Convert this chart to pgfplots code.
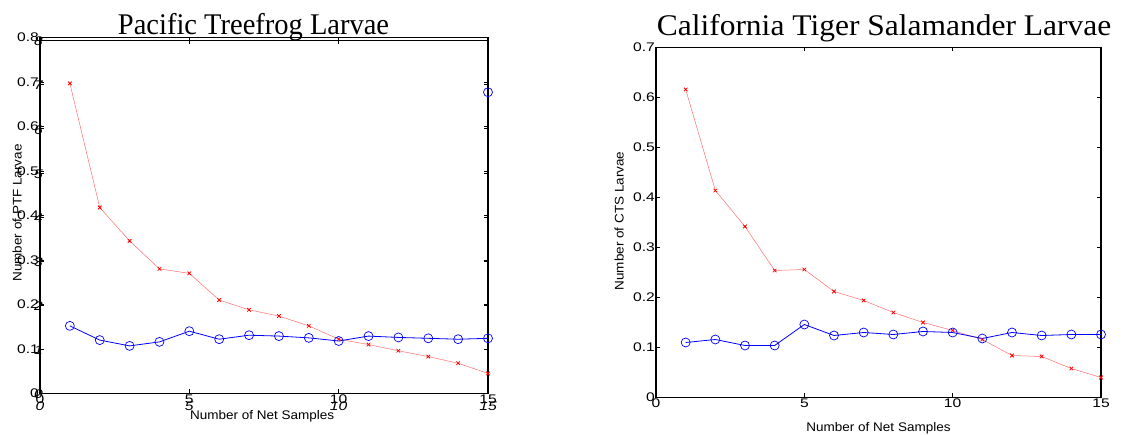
\documentclass[border=0pt]{standalone}
\usepackage{pgfplots}
\pgfplotsset{compat=1.18}
\usepackage{fontspec}
\setmainfont{Liberation Serif}
\setsansfont{Liberation Sans}
\newfontfamily\tickfont[FakeStretch=1.25]{Liberation Sans}
\newfontfamily\lblfont[FakeStretch=1.08]{Liberation Sans}
\newfontfamily\titlefontA[FakeStretch=0.95]{Liberation Serif}
\newfontfamily\titlefontB[FakeStretch=1.05]{Liberation Serif}

% left panel: Pacific Treefrog
\pgfplotstableread{
x ptfred ptfblue
1  0.697 0.152
2  0.418 0.120
3  0.343 0.107
4  0.280 0.116
5  0.270 0.140
6  0.210 0.122
7  0.188 0.131
8  0.174 0.129
9  0.152 0.125
10 0.122 0.118
11 0.110 0.129
12 0.096 0.126
13 0.083 0.124
14 0.068 0.122
15 0.045 0.124
}\ptf

% right panel: California Tiger Salamander
\pgfplotstableread{
x ctsred ctsblue
1  0.616 0.110
2  0.414 0.116
3  0.342 0.104
4  0.254 0.104
5  0.256 0.146
6  0.212 0.124
7  0.194 0.130
8  0.170 0.126
9  0.150 0.132
10 0.134 0.130
11 0.116 0.118
12 0.084 0.130
13 0.082 0.124
14 0.058 0.126
15 0.040 0.126
}\cts

\definecolor{mred}{RGB}{255,0,0}
\definecolor{mredline}{RGB}{255,110,110}
\definecolor{mblue}{RGB}{0,0,255}

\pgfplotsset{
  mlab/.style={
    scale only axis, anchor=south west,
    xmin=0, xmax=15, xtick={0,5,10,15}, ymin=0,
    tick align=inside, major tick length=4pt,
    every tick/.style={black, line width=0.5pt},
    tick label style={font=\tickfont\fontsize{12.5}{12.5}\selectfont, inner sep=1pt},
    label style={font=\lblfont\fontsize{12.5}{12.5}\selectfont},
    /pgf/number format/assume math mode=true,
    axis line style={line width=1.2pt},
    title style={anchor=base},
  },
  redser/.style={color=mredline, line width=0.5pt, mark=x, mark size=2.5pt,
    mark options={draw=mred, line width=0.8pt}},
  blueser/.style={color=mblue, line width=0.8pt, mark=o, mark size=4.5pt,
    mark options={draw=mblue, line width=0.7pt}},
}

\begin{document}
\begin{tikzpicture}
\path[use as bounding box] (0pt,0pt) rectangle (1123pt,435pt);

% overlaid second axes of the left figure (0..8 scale)
\begin{axis}[mlab,
  at={(40pt,41.5pt)}, width=448pt, height=353pt,
  ymax=8, ytick={0,1,...,8},
  tick label style={font=\tickfont\itshape\fontsize{12.5}{12.5}\selectfont},
  yticklabel style={xshift=4pt, yshift=-1pt},
  xticklabel style={yshift=-7pt},
]
\end{axis}

\begin{axis}[mlab,
  at={(40pt,41.5pt)}, width=448pt, height=356pt,
  ymax=0.8, ytick={0,0.1,...,0.8},
  title={Pacific Treefrog Larvae},
  title style={font=\titlefontA\fontsize{30}{32}\selectfont, at={(0.4766,1)}, yshift=-3.5pt},
  xlabel={Number of Net Samples},
  ylabel={Number of PTF Larvae},
  xlabel style={at={(axis description cs:0.496,-0.063)}, anchor=center},
  ylabel style={at={(axis description cs:-0.051,0.507)}, anchor=center},
]
\addplot[redser] table[x=x, y=ptfred] {\ptf};
\addplot[blueser] table[x=x, y=ptfblue] {\ptf};
\addplot[blueser, only marks] coordinates {(15,0.677)};
\end{axis}

\begin{axis}[mlab,
  at={(656pt,37.5pt)}, width=445pt, height=350pt,
  ymax=0.7, ytick={0,0.1,...,0.7},
  title={California Tiger Salamander Larvae},
  title style={font=\titlefontB\fontsize{30}{32}\selectfont, at={(0.5124,1)}, yshift=5.5pt},
  xlabel={Number of Net Samples},
  ylabel={Number of CTS Larvae},
  xlabel style={at={(axis description cs:0.5,-0.087)}, anchor=center},
  ylabel style={at={(axis description cs:-0.083,0.504)}, anchor=center},
]
\addplot[redser] table[x=x, y=ctsred] {\cts};
\addplot[blueser] table[x=x, y=ctsblue] {\cts};
\end{axis}
\end{tikzpicture}
\end{document}
